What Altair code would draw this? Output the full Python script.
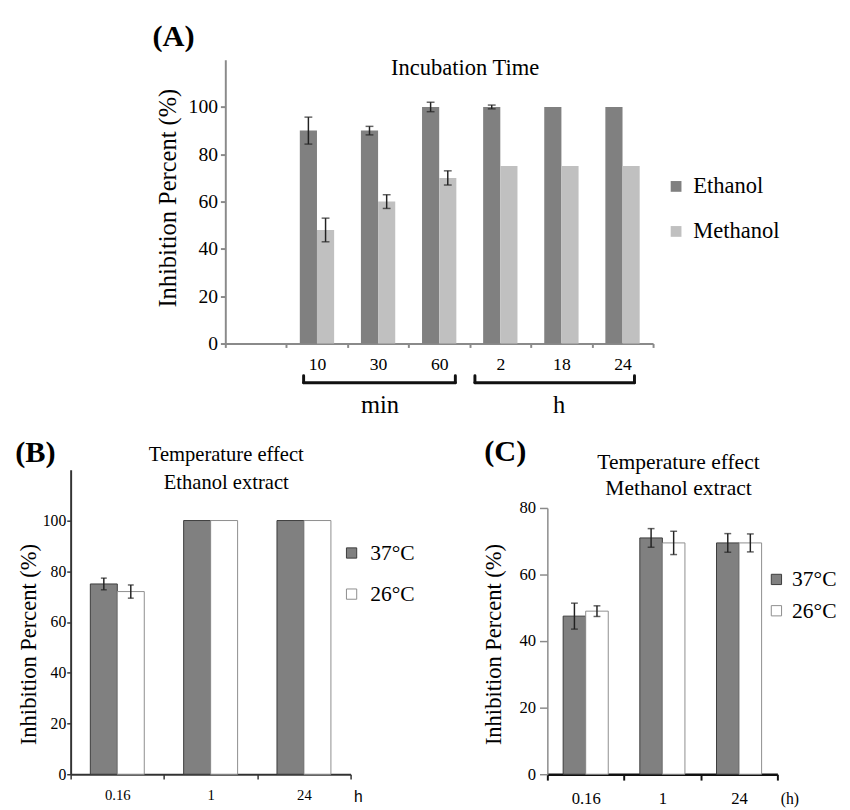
import altair as alt
import pandas as pd

SERIF = "Liberation Serif"
SANS = "Liberation Sans"

# ---------------- data ----------------
# Panel A: incubation time
a_categories = [" ", "10", "30", "60", "2", "18", "24"]
a_times = ["10", "30", "60", "2", "18", "24"]
a_series = ["Ethanol", "Methanol"]
a_ethanol = [90, 90, 100, 100, 100, 100]
a_ethanol_err = [5.7, 1.8, 2.0, 0.8, None, None]
a_methanol = [48, 60, 70, 75, 75, 75]
a_methanol_err = [5.0, 2.9, 3.0, None, None, None]

# Panel B: temperature effect, ethanol extract
b_times = ["0.16", "1", "24"]
temps = ["37°C", "26°C"]
b_37 = [75, 100, 100]
b_37_err = [2.3, None, None]
b_26 = [72, 100, 100]
b_26_err = [2.6, None, None]

# Panel C: temperature effect, methanol extract
c_times = ["0.16", "1", "24"]
c_37 = [47.5, 71, 69.5]
c_37_err = [3.9, 2.8, 2.8]
c_26 = [49, 69.5, 69.5]
c_26_err = [1.6, 3.5, 2.7]


def long_df(cats, names, vals, errs):
    rows = []
    for name, v, e in zip(names, vals, errs):
        for c, vv, ee in zip(cats, v, e):
            rows.append({"time": c, "series": name, "value": vv, "err": ee})
    df = pd.DataFrame(rows)
    df["err"] = df["err"].astype(float)
    df["lo"] = df["value"] - df["err"]
    df["hi"] = df["value"] + df["err"]
    return df


dfA = long_df(a_times, a_series, [a_ethanol, a_methanol], [a_ethanol_err, a_methanol_err])
dfB = long_df(b_times, temps, [b_37, b_26], [b_37_err, b_26_err])
dfC = long_df(c_times, temps, [c_37, c_26], [c_37_err, c_26_err])


def label(text, x, y, size, weight="normal", font=SERIF, align="center", baseline="alphabetic"):
    return alt.Chart(pd.DataFrame({"t": [text]})).mark_text(
        font=font, fontSize=size, fontWeight=weight, align=align,
        baseline=baseline, color="black"
    ).encode(text="t:N", x=alt.value(x), y=alt.value(y))


def seg(x, x2, y, y2):
    return alt.Chart(pd.DataFrame({"s": [0]})).mark_rule(
        color="#111111", strokeWidth=3, strokeCap="round"
    ).encode(x=alt.value(x), x2=alt.value(x2), y=alt.value(y), y2=alt.value(y2))


def panel(df, cats, series, colors, strokes, ydomain, width, height,
          pad_outer, xaxis, yaxis, legend, cap, xrange=None, yrange=None):
    xs = dict(domain=cats, paddingInner=0, paddingOuter=0)
    if xrange is not None:
        xs["range"] = xrange
    ys = dict(domain=ydomain, nice=False, zero=True)
    if yrange is not None:
        ys["range"] = yrange
    x = alt.X("time:N", scale=alt.Scale(**xs), axis=xaxis)
    xo = alt.XOffset("series:N", scale=alt.Scale(domain=series, paddingInner=0, paddingOuter=pad_outer))
    yscale = alt.Scale(**ys)
    base = alt.Chart(df)
    enc = dict(
        x=x, xOffset=xo,
        y=alt.Y("value:Q", scale=yscale, axis=yaxis),
        fill=alt.Fill("series:N", scale=alt.Scale(domain=series, range=colors), legend=legend),
    )
    if strokes is not None:
        enc["stroke"] = alt.Stroke("series:N", scale=alt.Scale(domain=series, range=strokes), legend=legend)
        bars = base.mark_bar(strokeWidth=1).encode(**enc)
    else:
        bars = base.mark_bar(strokeWidth=0).encode(**enc)
    err = alt.Chart(df.dropna(subset=["err"]))
    rule = err.mark_rule(color="#222222", strokeWidth=1.5).encode(
        x=x, xOffset=xo, y=alt.Y("lo:Q", scale=yscale, axis=yaxis), y2="hi:Q")
    t1 = err.mark_tick(color="#222222", thickness=1.5, size=cap).encode(
        x=x, xOffset=xo, y=alt.Y("lo:Q", scale=yscale, axis=yaxis))
    t2 = err.mark_tick(color="#222222", thickness=1.5, size=cap).encode(
        x=x, xOffset=xo, y=alt.Y("hi:Q", scale=yscale, axis=yaxis))
    return alt.layer(bars, rule, t1, t2).properties(width=width, height=height)


# ---------------- Panel A ----------------
# plot area spans from the left edge of panel B; the drawn axes start 158 px further right
AX = 158
GA = "#8a8a8a"
axAx = alt.Axis(title=None, labelAngle=0, labelFont=SERIF, labelFontSize=18, labelColor="black",
                tickBand="extent", tickSize=4, tickColor=GA, tickWidth=2,
                domainColor=GA, domainWidth=2, labelPadding=9, grid=False)
axAy = alt.Axis(values=[0, 20, 40, 60, 80, 100], title="Inhibition Percent (%)", offset=-AX,
                titleFont=SERIF, titleFontSize=25, titleFontWeight="normal", titleColor="black",
                titleX=-59, titleY=141, titleAngle=-90, titleAlign="center", titleBaseline="middle",
                labelFont=SERIF, labelFontSize=20, labelColor="black", labelPadding=3,
                tickSize=5, tickColor=GA, tickWidth=2, domainColor=GA, domainWidth=2, grid=False)
legA = alt.Legend(title=None, orient="none", legendX=449 + AX, legendY=118, symbolType="square",
                  symbolSize=121, symbolStrokeWidth=0, labelFont=SERIF, labelFontSize=23,
                  labelColor="black", rowPadding=22, labelOffset=6, padding=0)
A_W, A_H = 437 + AX, 290
chartA = panel(dfA, a_categories, a_series, ["#808080", "#c0c0c0"], None, [0, 120],
               A_W, A_H, 0.78, axAx, axAy, legA, 8, xrange=[AX, A_W])
chartA = alt.layer(
    chartA,
    label("(A)", -53 + AX, -14, 31, weight="bold"),
    label("Incubation Time", 245 + AX, 16, 23),
    seg(80 + AX, 235 + AX, 330, 330), seg(80 + AX, 80 + AX, 323, 330), seg(235 + AX, 235 + AX, 323, 330),
    seg(255 + AX, 418 + AX, 330, 330), seg(255 + AX, 255 + AX, 323, 330), seg(418 + AX, 418 + AX, 323, 330),
    label("min", 158 + AX, 361, 25),
    label("h", 341 + AX, 361, 25),
).properties(width=A_W, height=A_H)

# ---------------- Panel B ----------------
GB = "#333333"
axBx = alt.Axis(title="h", titleFont=SANS, titleFontSize=16, titleFontWeight="normal", titleColor="black",
                titleX=289, titleY=23, titleAlign="left", titleBaseline="middle", titleAngle=0,
                labelAngle=0, labelFont=SERIF, labelFontSize=15, labelColor="black",
                tickBand="extent", tickSize=5, tickColor=GB, tickWidth=1.5,
                domainColor=GB, domainWidth=2, labelPadding=9, grid=False)
axBy = alt.Axis(values=[0, 20, 40, 60, 80, 100], title="Inhibition Percent  (%)",
                titleFont=SERIF, titleFontSize=23, titleFontWeight="normal", titleColor="black",
                titleX=-43, titleY=178, titleAngle=-90, titleAlign="center", titleBaseline="middle",
                labelFont=SERIF, labelFontSize=16, labelColor="black", labelPadding=1,
                tickSize=4, tickColor=GB, tickWidth=1.5, domainColor=GB, domainWidth=2, grid=False)
legB = alt.Legend(title=None, orient="none", legendX=276, legendY=74, symbolType="square",
                  symbolSize=110, symbolStrokeWidth=1, labelFont=SERIF, labelFontSize=22,
                  labelColor="black", rowPadding=20, labelOffset=8, padding=0)
B_W, B_H = 286, 311
chartB = panel(dfB, b_times, temps, ["#808080", "#ffffff"], ["#3a3a3a", "#8c8c8c"], [0, 120],
               B_W, B_H, 0.73, axBx, axBy, legB, 6)
chartB = alt.layer(
    chartB,
    label("(B)", -36, -8, 31, weight="bold"),
    label("Temperature effect", 159, -9, 21),
    label("Ethanol extract", 159, 20, 21),
).properties(width=B_W, height=B_H)

# ---------------- Panel C ----------------
# same outer height as B; the value axis occupies the lower 272 px
CY = 39
GC = "#8a8a8a"
axCx = alt.Axis(title="(h)", titleFont=SERIF, titleFontSize=16, titleFontWeight="normal", titleColor="black",
                titleX=238, titleY=25, titleAlign="left", titleBaseline="middle", titleAngle=0,
                labelAngle=0, labelFont=SERIF, labelFontSize=17, labelColor="black",
                tickBand="extent", tickSize=6, tickColor="#111111", tickWidth=2,
                domainColor="#111111", domainWidth=2.5, labelPadding=11, grid=False)
axCy = alt.Axis(values=[0, 20, 40, 60, 80], title="Inhibition Percent (%)",
                titleFont=SERIF, titleFontSize=23, titleFontWeight="normal", titleColor="black",
                titleX=-55, titleY=139 + CY, titleAngle=-90, titleAlign="center", titleBaseline="middle",
                labelFont=SERIF, labelFontSize=17, labelColor="black", labelPadding=4,
                tickSize=8, tickColor=GC, tickWidth=1.5, domainColor=GC, domainWidth=1.5, grid=False)
legC = alt.Legend(title=None, orient="none", legendX=223, legendY=62 + CY, symbolType="square",
                  symbolSize=110, symbolStrokeWidth=1, labelFont=SERIF, labelFontSize=22,
                  labelColor="black", rowPadding=10, labelOffset=5, padding=0)
C_W, C_H = 235, 311
chartC = panel(dfC, c_times, temps, ["#808080", "#ffffff"], ["#3a3a3a", "#8c8c8c"], [0, 80],
               C_W, C_H, 0.70, axCx, axCy, legC, 7, yrange=[C_H, CY])
chartC = alt.layer(
    chartC,
    label("(C)", -43, -48 + CY, 31, weight="bold"),
    label("Temperature effect", 134, -40 + CY, 22),
    label("Methanol extract", 134, -13 + CY, 22),
).properties(width=C_W, height=C_H)

# ---------------- layout ----------------
res = dict(x="independent", y="independent", xOffset="independent",
           fill="independent", stroke="independent")
rowBC = alt.hconcat(chartB, chartC, spacing=201, bounds="flush").resolve_scale(**res).resolve_legend(
    fill="independent", stroke="independent")
chart = alt.vconcat(chartA, rowBC, spacing=129, bounds="flush").resolve_scale(**res).resolve_legend(
    fill="independent", stroke="independent").properties(
    padding={"left": 7, "top": 5, "right": 5, "bottom": 5}
).configure_view(stroke=None)

chart.save("out.html", embed_options={"renderer": "svg", "actions": False})
